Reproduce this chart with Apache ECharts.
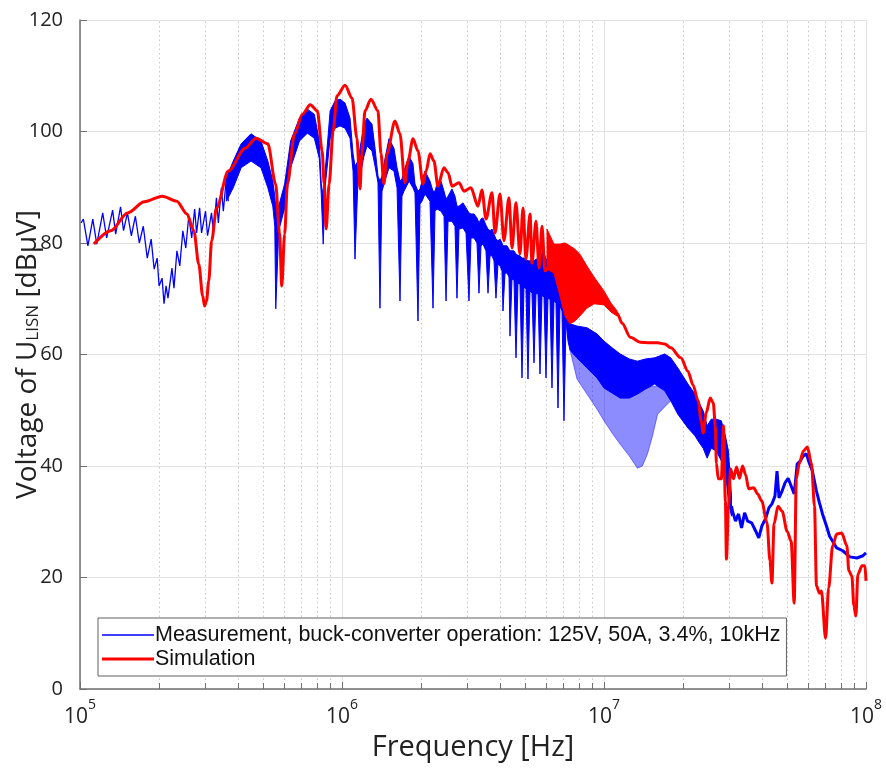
<!DOCTYPE html>
<html>
<head>
<meta charset="utf-8">
<script src="https://cdn.jsdelivr.net/npm/echarts@6/dist/echarts.min.js"></script>
<style>
html, body { margin: 0; padding: 0; background: #fff; }
#chart { width: 886px; height: 769px; }
</style>
</head>
<body>
<div id="chart"></div>
<script>
// values: [frequency in Hz, level in dBµV]
var measName = 'Measurement, buck-converter operation: 125V, 50A, 3.4%, 10kHz';
var simName = 'Simulation';

// measurement below ~370 kHz, single ripple teeth still visible
var measTeeth = [
    [1.01e5, 83.6], [1.03e5, 84.3], [1.072e5, 79.5], [1.119e5, 84.3], [1.159e5, 79.8],
    [1.221e5, 85.4], [1.264e5, 80.9], [1.332e5, 85.9], [1.368e5, 81.6], [1.428e5, 86.5],
    [1.466e5, 82.2], [1.517e5, 85.4], [1.57e5, 81.3], [1.627e5, 84.8], [1.684e5, 80.0],
    [1.744e5, 83.0], [1.806e5, 77.3], [1.869e5, 80.7], [1.919e5, 75.3], [1.97e5, 77.3],
    [2.004e5, 72.3], [2.057e5, 73.7], [2.093e5, 69.1], [2.13e5, 72.3], [2.167e5, 70.1],
    [2.244e5, 75.5], [2.284e5, 71.9], [2.344e5, 78.6], [2.404e5, 75.9], [2.469e5, 82.2],
    [2.534e5, 79.1], [2.6e5, 84.8], [2.669e5, 80.9], [2.739e5, 86.1], [2.786e5, 81.8],
    [2.861e5, 86.3], [2.911e5, 81.8], [3.014e5, 85.7], [3.068e5, 81.3], [3.177e5, 85.4],
    [3.232e5, 81.8], [3.317e5, 88.1], [3.373e5, 83.6], [3.464e5, 89.9], [3.524e5, 85.7],
    [3.62e5, 91.7], [3.681e5, 87.5]
];

// measurement above ~370 kHz: dense ripple band (top / bottom) with the lobe nulls
var measBandFreq = [
    3.62e5, 3.845e5, 4.122e5, 4.496e5, 4.905e5, 5.212e5, 5.443e5, 5.539e5, 5.587e5, 5.735e5,
    6.04e5, 6.366e5, 6.881e5, 7.378e5, 7.84e5, 8.189e5, 8.333e5, 8.479e5, 8.627e5, 9.011e5,
    9.41e5, 9.829e5, 1.027e6, 1.073e6, 1.102e6, 1.121e6, 1.151e6, 1.172e6, 1.213e6, 1.246e6,
    1.302e6, 1.337e6, 1.372e6, 1.396e6, 1.421e6, 1.447e6, 1.511e6, 1.579e6, 1.622e6, 1.665e6,
    1.694e6, 1.724e6, 1.803e6, 1.866e6, 1.899e6, 1.95e6, 1.985e6, 2.02e6, 2.074e6, 2.167e6,
    2.225e6, 2.265e6, 2.305e6, 2.387e6, 2.451e6, 2.495e6, 2.539e6, 2.629e6, 2.699e6, 2.747e6,
    2.796e6, 2.896e6, 2.974e6, 3.053e6, 3.107e6, 3.19e6, 3.275e6, 3.333e6, 3.392e6, 3.452e6,
    3.544e6, 3.608e6, 3.672e6, 3.737e6, 3.803e6, 3.87e6, 3.939e6, 4.009e6, 4.08e6, 4.116e6,
    4.189e6, 4.264e6, 4.339e6, 4.377e6, 4.455e6, 4.534e6, 4.614e6, 4.696e6, 4.779e6, 4.864e6,
    4.95e6, 5.038e6, 5.127e6, 5.218e6, 5.311e6, 5.405e6, 5.501e6, 5.598e6, 5.698e6, 5.799e6,
    5.85e6, 5.902e6, 6.006e6, 6.113e6, 6.221e6, 6.331e6, 6.444e6, 6.558e6, 6.674e6, 6.793e6,
    6.913e6, 7.035e6, 7.161e6, 7.288e6, 7.417e6, 7.886e6, 8.61e6, 9.404e6, 1.0e7, 1.074e7,
    1.153e7, 1.249e7, 1.341e7, 1.44e7, 1.56e7, 1.705e7, 1.798e7, 1.913e7, 2.092e7, 2.226e7,
    2.286e7, 2.39e7, 2.476e7, 2.566e7, 2.683e7, 2.805e7, 2.906e7, 2.985e7, 3.066e7
];
var measBandHigh = [
    91.7, 94.7, 97.8, 99.6, 98.3, 94.7, 91.1, 88.4, 86.6, 86.6,
    90.6, 98.3, 102.4, 104.0, 103.1, 98.3, 90.6, 88.4, 92.9, 103.7,
    105.5, 105.8, 105.1, 102.4, 96.0, 93.8, 94.7, 97.0, 101.3, 102.4,
    101.3, 97.0, 92.0, 91.1, 92.0, 94.2, 98.7, 97.0, 93.5, 91.1,
    91.5, 92.9, 95.6, 94.2, 90.6, 89.3, 89.7, 91.1, 92.9, 91.1,
    89.3, 89.3, 90.6, 91.1, 89.3, 87.9, 88.4, 89.7, 88.4, 86.6,
    86.6, 87.2, 86.3, 85.4, 85.2, 85.2, 84.5, 83.6, 84.3, 84.5,
    83.2, 82.5, 82.2, 82.5, 81.6, 80.7, 80.4, 80.7, 80.0, 79.5,
    79.5, 79.5, 78.9, 78.6, 78.6, 78.6, 78.0, 77.8, 77.7, 77.3,
    77.3, 77.1, 76.8, 76.8, 76.8, 76.8, 77.1, 77.1, 77.1, 78.2,
    81.3, 78.2, 77.1, 77.1, 76.8, 76.4, 76.4, 75.9, 75.5, 75.0,
    74.1, 73.2, 71.7, 68.7, 65.5, 65.1, 64.8, 63.7, 62.4, 61.2,
    60.1, 59.2, 58.8, 59.2, 59.4, 60.1, 59.4, 57.6, 54.7, 52.9,
    51.7, 49.9, 47.2, 48.4, 48.4, 48.1, 45.4, 42.7, 34.6
];
var measBandLow = [
    87.5, 89.9, 93.5, 94.7, 93.5, 89.9, 86.6, 83.0, 68.2, 82.2,
    86.3, 93.5, 98.3, 99.7, 98.8, 95.2, 88.8, 79.8, 90.2, 98.8,
    100.6, 101.0, 100.6, 98.8, 92.9, 77.1, 91.5, 92.0, 95.6, 97.4,
    96.5, 93.8, 90.8, 68.3, 89.3, 90.6, 93.5, 92.9, 89.9, 69.6,
    88.4, 89.3, 91.1, 89.9, 89.0, 66.0, 87.0, 87.5, 88.8, 87.5,
    68.3, 85.7, 86.1, 85.7, 84.8, 69.6, 83.9, 83.9, 83.0, 70.1,
    82.5, 82.7, 81.8, 69.6, 80.9, 80.9, 80.0, 71.0, 79.5, 79.8,
    78.6, 71.0, 77.7, 77.7, 76.8, 70.1, 76.2, 75.9, 75.0, 67.8,
    74.6, 74.6, 73.9, 63.3, 73.5, 73.4, 59.4, 72.8, 72.6, 55.8,
    72.1, 71.7, 55.6, 71.4, 71.0, 58.5, 70.9, 70.9, 56.5, 70.5,
    70.5, 70.3, 55.8, 70.1, 69.9, 54.0, 69.6, 69.2, 50.4, 68.7,
    67.8, 48.1, 66.0, 62.4, 60.8, 59.4, 57.6, 55.8, 54.0, 53.1,
    52.2, 52.2, 52.9, 53.8, 54.7, 53.5, 51.7, 49.3, 46.8, 45.4,
    44.5, 43.2, 41.4, 43.2, 42.7, 40.9, 39.1, 33.7, 31.0
];

// lighter comb of ripple minima, 7.4 - 18 MHz
var measCombFreq = [7.417e6, 7.886e6, 8.61e6, 9.404e6, 1.0e7, 1.074e7, 1.153e7, 1.249e7,
    1.341e7, 1.402e7, 1.466e7, 1.532e7, 1.602e7, 1.705e7, 1.798e7];
var measCombHigh = [60.8, 59.4, 57.6, 55.8, 54.0, 53.1, 52.2, 52.2, 52.9, 53.5, 54.0, 54.3, 54.3, 53.5, 51.7];
var measCombLow = [60.8, 55.6, 52.9, 50.2, 48.1, 45.9, 43.9, 41.8, 39.6, 40.0, 42.2, 45.4, 49.3, 50.6, 51.7];

// measurement above 30 MHz
var measTail = [
    [3.066e7, 32.8], [3.093e7, 31.9], [3.176e7, 30.1], [3.262e7, 31.4], [3.35e7, 28.9],
    [3.441e7, 31.6], [3.534e7, 30.1], [3.662e7, 29.8], [3.795e7, 28.3], [3.897e7, 27.1],
    [4.003e7, 29.2], [4.148e7, 30.7], [4.259e7, 32.5], [4.375e7, 33.2], [4.493e7, 34.6],
    [4.574e7, 39.1], [4.656e7, 34.3], [4.782e7, 35.5], [4.911e7, 37.0], [5.044e7, 37.8],
    [5.18e7, 36.4], [5.321e7, 35.0], [5.465e7, 40.4], [5.61e7, 40.9], [5.762e7, 41.8],
    [5.918e7, 42.2], [6.078e7, 40.5], [6.243e7, 39.1], [6.469e7, 35.5], [6.644e7, 33.4],
    [6.823e7, 31.4], [7.071e7, 29.2], [7.261e7, 27.4], [7.458e7, 26.5], [7.727e7, 25.3],
    [8.15e7, 24.8], [8.675e7, 23.7], [9.233e7, 23.5], [9.737e7, 23.9], [1.0e8, 24.4]
];

// simulation
var simLine = [
    [1.13e5, 79.8], [1.31e5, 82.2], [1.52e5, 85.4], [1.76e5, 87.4], [2.06e5, 88.4],
    [2.34e5, 87.5], [2.56e5, 85.2], [2.72e5, 82.2], [2.84e5, 76.2], [2.94e5, 70.5],
    [2.99e5, 68.7], [3.04e5, 69.6], [3.1e5, 73.2], [3.18e5, 80.4], [3.32e5, 86.3],
    [3.68e5, 92.9], [4.27e5, 97.0], [4.7e5, 98.8], [5.21e5, 97.8], [5.58e5, 90.6],
    [5.78e5, 81.6], [5.89e5, 72.3], [6.04e5, 81.6], [6.19e5, 90.6], [6.59e5, 99.6],
    [7.06e5, 103.1], [7.57e5, 104.8], [8.05e5, 103.7], [8.4e5, 96.5], [8.55e5, 90.6],
    [8.7e5, 82.5], [8.93e5, 90.6], [9.25e5, 100.1], [9.57e5, 106.4], [1.027e6, 108.3],
    [1.092e6, 106.0], [1.14e6, 98.8], [1.172e6, 89.7], [1.19e6, 96.0], [1.224e6, 103.7],
    [1.29e6, 105.8], [1.371e6, 103.7], [1.409e6, 96.0], [1.445e6, 90.6], [1.485e6, 96.0],
    [1.593e6, 101.9], [1.664e6, 99.6], [1.738e6, 90.8], [1.786e6, 94.7], [1.866e6, 98.7],
    [1.95e6, 96.5], [2.037e6, 90.6], [2.094e6, 92.9], [2.168e6, 96.0], [2.244e6, 94.7],
    [2.323e6, 90.2], [2.449e6, 93.5], [2.54e6, 92.6], [2.63e6, 90.2], [2.797e6, 90.8],
    [2.922e6, 89.3], [3.105e6, 89.9], [3.304e6, 86.6], [3.42e6, 89.5], [3.545e6, 84.3],
    [3.737e6, 89.0], [3.837e6, 81.8], [4.009e6, 88.8], [4.15e6, 80.4], [4.337e6, 88.1],
    [4.456e6, 79.1], [4.613e6, 87.2], [4.775e6, 78.0], [4.909e6, 86.3], [5.035e6, 77.1],
    [5.22e6, 85.2], [5.31e6, 76.4], [5.5e6, 83.9], [5.65e6, 75.5], [5.8e6, 83.0],
    [5.95e6, 75.0], [6.44e6, 77.2], [7.1e6, 73.5], [8.09e6, 72.5], [9.16e6, 71.5],
    [1.0e7, 70.2], [1.064e7, 68.4], [1.122e7, 67.4], [1.173e7, 65.6], [1.26e7, 63.1],
    [1.377e7, 62.2], [1.492e7, 62.1], [1.603e7, 62.1], [1.706e7, 61.9], [1.798e7, 61.2],
    [1.965e7, 59.4], [2.09e7, 57.0], [2.188e7, 54.5], [2.286e7, 51.7], [2.35e7, 48.1],
    [2.39e7, 45.9], [2.455e7, 49.5], [2.543e7, 52.2], [2.613e7, 51.3], [2.66e7, 47.2],
    [2.685e7, 40.5], [2.73e7, 37.7], [2.805e7, 37.7], [2.857e7, 47.2], [2.906e7, 33.7],
    [2.933e7, 23.3], [2.987e7, 32.8], [3.04e7, 39.5], [3.12e7, 37.7], [3.206e7, 39.8],
    [3.29e7, 37.8], [3.38e7, 40.0], [3.473e7, 38.4], [3.565e7, 35.9], [3.727e7, 36.1],
    [3.86e7, 35.0], [4.0e7, 33.7], [4.19e7, 29.8], [4.3e7, 23.0], [4.375e7, 19.0],
    [4.456e7, 29.6], [4.614e7, 32.8], [4.785e7, 31.9], [5.0e7, 28.3], [5.18e7, 26.5],
    [5.32e7, 15.4], [5.42e7, 37.7], [5.56e7, 40.4], [5.77e7, 42.7], [5.97e7, 43.4],
    [6.19e7, 40.5], [6.36e7, 32.8], [6.47e7, 18.5], [6.645e7, 17.2], [6.76e7, 17.6],
    [7.01e7, 9.1], [7.2e7, 18.1], [7.46e7, 25.7], [7.73e7, 27.8], [8.08e7, 28.0],
    [8.45e7, 25.7], [8.6e7, 21.2], [8.83e7, 20.3], [8.99e7, 14.9], [9.15e7, 13.1],
    [9.31e7, 20.6], [9.66e7, 22.1], [9.91e7, 22.1], [1.0e8, 19.4]
];

// simulation ripple band 6 - 11 MHz
var simBandFreq = [6.06e6, 6.44e6, 6.79e6, 7.1e6, 7.41e6, 7.74e6, 8.09e6, 8.6e6, 9.16e6, 1.0e7, 1.064e7, 1.122e7];
var simBandHigh = [82.5, 79.8, 79.8, 80.0, 79.5, 78.9, 78.0, 75.9, 73.9, 71.4, 69.2, 67.8];
var simBandLow = [75.3, 74.6, 70.5, 66.9, 65.5, 66.0, 66.9, 68.3, 69.1, 68.9, 67.6, 66.9];

// axis
var yTicks = [0, 20, 40, 60, 80, 100, 120];
var decades = [1e5, 1e6, 1e7];
var minorSteps = [2, 3, 4, 5, 6, 7, 8, 9];

var minorTicks = [];
decades.forEach(function (d) {
    minorSteps.forEach(function (m) { minorTicks.push([d * m, 0]); });
});

var BLUE = '#0000ff';
var RED = '#ff0000';
var AXIS = '#707070';
var FONT = 'Open Sans';

// legend icons: a horizontal stroke inside an 52x18 box
var thinIcon = 'path://M0,0 L0.01,0 L0.01,0.01 Z M0,8.3 L52,8.3 L52,9.7 L0,9.7 Z M0,18 L0.01,18 L0.01,17.99 Z';
var thickIcon = 'path://M0,0 L0.01,0 L0.01,0.01 Z M0,7.5 L52,7.5 L52,10.5 L0,10.5 Z M0,18 L0.01,18 L0.01,17.99 Z';

function bandSeries(name, freqs, hi, lo, color, opacity, z) {
    return {
        name: name,
        type: 'custom',
        silent: true,
        z: z,
        data: [[freqs[0], hi[0]]],
        renderItem: function (params, api) {
            var pts = [];
            for (var i = 0; i < freqs.length; i++) {
                pts.push(api.coord([freqs[i], hi[i]]));
            }
            for (var j = freqs.length - 1; j >= 0; j--) {
                pts.push(api.coord([freqs[j], lo[j]]));
            }
            return {
                type: 'polygon',
                shape: { points: pts },
                style: { fill: color, stroke: color, lineWidth: 1, opacity: opacity }
            };
        }
    };
}

var myChart = echarts.init(document.getElementById('chart'));

var option = {
    animation: false,
    backgroundColor: '#fff',
    grid: { left: 80, right: 20, top: 20, bottom: 80, containLabel: false, outerBoundsMode: 'none' },
    legend: {
        orient: 'vertical',
        left: 98,
        top: 618,
        data: [
            { name: measName, icon: thinIcon },
            { name: simName, icon: thickIcon }
        ],
        backgroundColor: '#fff',
        borderColor: '#606060',
        borderWidth: 1,
        borderRadius: 0,
        padding: [5, 6, 5, 4],
        itemGap: 0,
        itemWidth: 52,
        itemHeight: 18,
        textStyle: {
            fontFamily: 'Liberation Sans', fontSize: 21.5, lineHeight: 24,
            color: '#111', padding: [0, 0, 0, -4]
        }
    },
    xAxis: {
        type: 'log',
        logBase: 10,
        min: 1e5,
        max: 1e8,
        name: 'Frequency [Hz]',
        nameLocation: 'middle',
        nameGap: 44,
        nameMoveOverlap: false,
        nameTextStyle: { fontFamily: FONT, fontSize: 29, color: '#222' },
        axisLine: { lineStyle: { color: AXIS, width: 1.5 } },
        axisTick: { inside: true, length: 7, lineStyle: { color: AXIS } },
        splitLine: { show: true, lineStyle: { color: '#e2e2e2', width: 1 } },
        axisLabel: {
            margin: 9,
            formatter: function (v) {
                var e = Math.round(Math.log(v) / Math.LN10);
                return '{b|10}{s|' + e + '}';
            },
            rich: {
                b: { fontFamily: FONT, fontSize: 21, color: '#222', lineHeight: 30, verticalAlign: 'bottom' },
                s: { fontFamily: FONT, fontSize: 14, color: '#222', lineHeight: 15, verticalAlign: 'top' }
            }
        }
    },
    yAxis: {
        type: 'value',
        min: yTicks[0],
        max: yTicks[yTicks.length - 1],
        interval: 20,
        name: 'Voltage of U{sub|LISN} [dBµV]',
        nameLocation: 'middle',
        nameGap: 38,
        nameMoveOverlap: false,
        nameTextStyle: {
            fontFamily: FONT, fontSize: 28, color: '#222',
            rich: {
                sub: { fontFamily: FONT, fontSize: 17, color: '#222', lineHeight: 17, verticalAlign: 'bottom' }
            }
        },
        axisLine: { show: true, lineStyle: { color: AXIS, width: 1.5 } },
        axisTick: { show: true, inside: true, length: 7, lineStyle: { color: AXIS } },
        splitLine: { show: true, lineStyle: { color: '#e2e2e2', width: 1 } },
        axisLabel: { margin: 17, fontFamily: FONT, fontSize: 20, color: '#222' }
    },
    series: [
        {
            name: 'minor grid',
            type: 'custom',
            silent: true,
            z: 1,
            data: minorTicks,
            renderItem: function (params, api) {
                var f = api.value(0);
                var p0 = api.coord([f, yTicks[0]]);
                var p1 = api.coord([f, yTicks[yTicks.length - 1]]);
                var x = Math.round(p0[0]) + 0.5;
                return {
                    type: 'group',
                    children: [
                        { type: 'line', shape: { x1: x, y1: p0[1], x2: x, y2: p1[1] },
                          style: { stroke: '#c6c6c6', lineWidth: 1, lineDash: [1.5, 3] } },
                        { type: 'line', shape: { x1: x, y1: p0[1], x2: x, y2: p0[1] - 6 },
                          style: { stroke: AXIS, lineWidth: 1 } }
                    ]
                };
            }
        },
        bandSeries('meas band', measBandFreq, measBandHigh, measBandLow, BLUE, 1, 2),
        bandSeries('meas comb', measCombFreq, measCombHigh, measCombLow, BLUE, 0.45, 2),
        {
            name: measName,
            type: 'line',
            z: 3,
            symbol: 'none',
            data: measTeeth,
            lineStyle: { color: BLUE, width: 1.3 },
            itemStyle: { color: BLUE }
        },
        {
            name: 'meas tail',
            type: 'line',
            z: 3,
            symbol: 'none',
            data: measTail,
            lineStyle: { color: BLUE, width: 3 }
        },
        bandSeries('sim band', simBandFreq, simBandHigh, simBandLow, RED, 1, 4),
        {
            name: simName,
            type: 'line',
            z: 5,
            symbol: 'none',
            smooth: 0.3,
            smoothMonotone: 'x',
            data: simLine,
            lineStyle: { color: RED, width: 3 },
            itemStyle: { color: RED }
        }
    ]
};

myChart.setOption(option);
</script>
</body>
</html>
